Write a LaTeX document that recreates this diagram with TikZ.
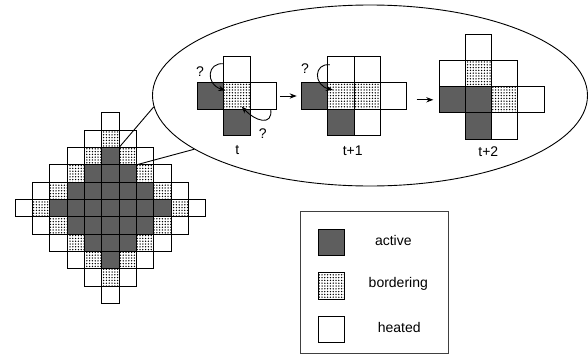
\documentclass[tikz,border=0pt]{standalone}
\usepackage{fontspec}
\setmainfont{Liberation Sans}
\usetikzlibrary{arrows.meta,positioning,shapes.geometric,patterns.meta}

\begin{document}
\begin{tikzpicture}[x=1pt, y=-1pt, >=Stealth, line width=0.9pt,
  every node/.style={font=\fontsize{14}{16}\selectfont},
  cell/.style={draw, inner sep=0pt, outer sep=0pt, minimum size=26.2pt},
  gcell/.style={cell, minimum size=17.35pt},
  act/.style={fill=black!63},
  bord/.style={pattern={Dots[distance=2.8pt,radius=0.75pt]}},
  heat/.style={fill=white},
  d0/.style=act, d1/.style=act, d2/.style=act, d3/.style=act,
  d4/.style=bord, d5/.style=heat]
\useasboundingbox[fill=white] (0,0) rectangle (588,356);
% the whole grid
\foreach \i in {-5,...,5}
  \foreach \j in {-5,...,5} {
    \pgfmathtruncatemacro\d{abs(\i)+abs(\j)}
    \ifnum\d<6
      \node[gcell, d\d] (g\i_\j) at (110.4+17.35*\i, 208.2+17.35*\j) {};
    \fi
  }
% zoomed part
\node[draw, ellipse, minimum width=435pt, minimum height=181pt, inner sep=0pt]
  (zoomell) at (370,95.5) {};
\draw (g0_-4.south east) -- (zoomell.183);
\draw (g1_-3.south east) -- (zoomell.197);
% step t
\foreach \c/\r/\k in {1/0/heat, 0/1/act, 1/1/bord, 2/1/heat, 1/2/act}
  \node[cell, \k] (ta\c\r) at (210.8+26.2*\c, 69.8+26.2*\r) {};
% step t+1
\foreach \c/\r/\k in {1/0/heat, 2/0/heat, 0/1/act, 1/1/bord, 2/1/bord,
                      3/1/heat, 1/2/act, 2/2/heat}
  \node[cell, \k] (tb\c\r) at (314.8+26.2*\c, 69.8+26.2*\r) {};
% step t+2
\foreach \c/\r/\k in {1/0/heat, 0/1/heat, 1/1/bord, 2/1/heat, 0/2/act,
                      1/2/act, 2/2/bord, 3/2/heat, 1/3/act, 2/3/heat}
  \node[cell, \k] (tc\c\r) at (452.4+26.2*\c, 47.4+26.2*\r) {};
\node (lt) at (237.3,150) {t};
\node (lt1) at (352.7,150.7) {t+1};
\node (lt2) at (488.3,151.7) {t+2};
\draw[->, shorten <=3.6pt, shorten >=5pt] (ta21.east) -- (tb01.west);
\draw[->, shorten <=10pt, shorten >=6pt] (tb31.east |- tc02.west) -- (tc02.west);
% neighbour checks
\node (q1) at (200,71.7) {?};
\node (q2) at (262.7,133.3) {?};
\node (q3) at (305,69) {?};
\draw[->] ([yshift=6pt]ta10.west) .. controls +(-16.7,-2) and +(-20.5,-6.5)
  .. ([shift={(-11.5,-5.5)}]ta11.center);
\draw[->] ([xshift=7.5pt]ta21.south) .. controls +(2.3,17.7) and +(13.3,14.5)
  .. ([shift={(4.7,10.5)}]ta11.center);
\draw[->] ([xshift=2pt, yshift=5pt]tb10.west) .. controls +(-16,-2) and +(-20,-5)
  .. ([shift={(-8,-6)}]tb11.center);
% legend
\node[draw=black!75, minimum width=147.6pt, minimum height=141.6pt, inner sep=0pt]
  (legend) at (374.5,282.5) {};
\node[cell, act] (kact) at (331.3,242.3) {};
\node[cell, bord] (kbord) at (331.3,286) {};
\node[cell, heat] (kheat) at (331.3,329.2) {};
\node (tact) at (393.3,240) {active};
\node (tbord) at (398.3,284.3) {bordering};
\node (theat) at (399.3,327.7) {heated};
\end{tikzpicture}
\end{document}
